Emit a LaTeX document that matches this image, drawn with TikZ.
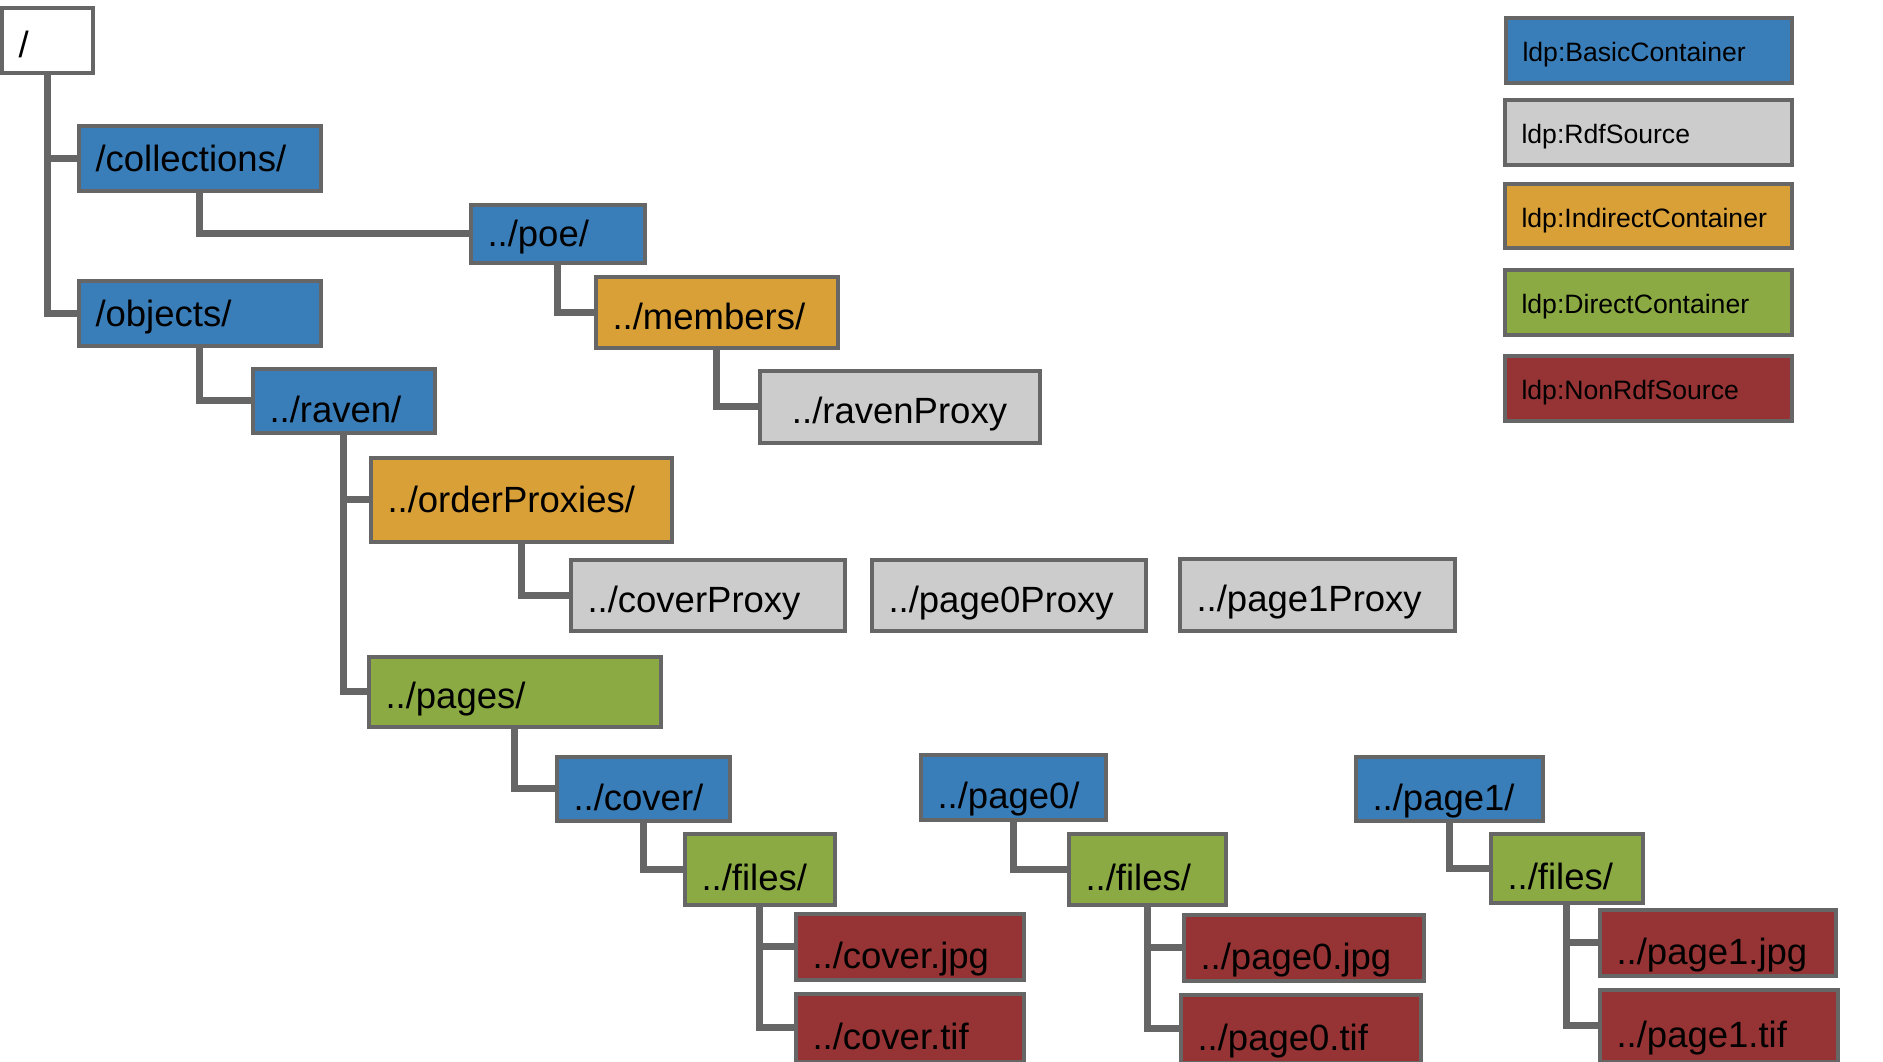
\documentclass[tikz,border=0pt]{standalone}
\usepackage{fontspec}
\setmainfont{Liberation Sans}
\usetikzlibrary{backgrounds}
\definecolor{linegray}{HTML}{666666}
\definecolor{basicblue}{HTML}{3A7EB9}
\definecolor{rdfgray}{HTML}{CCCCCC}
\definecolor{indorange}{HTML}{D9A038}
\definecolor{dirgreen}{HTML}{8BAA43}
\definecolor{nonrdfred}{HTML}{963334}
\tikzset{
  % box size given in pixels: outer width, outer height
  boxsize/.code 2 args={%
    \pgfmathsetlengthmacro\boxw{(#1-4)*0.5pt}%
    \pgfmathsetlengthmacro\boxtw{(#1-4)*0.5pt-17pt}%
    \pgfmathsetlengthmacro\boxh{(#2-4)*0.5pt}%
    \edef\boxopts{\noexpand\tikzset{minimum width=\boxw,text width=\boxtw,minimum height=\boxh}}\boxopts},
  res/.style={draw=linegray, line width=2pt, anchor=north west,
    inner xsep=8.5pt, inner ysep=0pt, align=left,
    font=\fontsize{18.25pt}{20pt}\selectfont, text height=17pt, text depth=0pt},
  lowtext/.style={text height=21.5pt},
  hightext/.style={text height=13pt},
  rootbox/.style={res, fill=white},
  bcbox/.style={res, fill=basicblue},
  rdfbox/.style={res, fill=rdfgray},
  icbox/.style={res, fill=indorange},
  dcbox/.style={res, fill=dirgreen},
  nrbox/.style={res, fill=nonrdfred, lowtext},
  keybox/.style={font=\fontsize{13.3pt}{15pt}\selectfont, text height=11.5pt},
  conn/.style={draw=linegray, line width=3.5pt},
}
\begin{document}
\begin{tikzpicture}[x=0.5pt,y=-0.5pt]
\useasboundingbox (0,0) rectangle (1883,1061);

\begin{scope}[shift={(-2.5,-2.5)}]
% tree
\node[rootbox, boxsize={95}{69}] (root) at (2,8) {/};
\node[bcbox, hightext, boxsize={246}{69}] (collections) at (79,126) {/collections/};
\node[bcbox, hightext, boxsize={178}{62}] (poe) at (471,205) {../poe/};
\node[icbox, boxsize={246}{75}] (members) at (596,277) {../members/};
\node[rdfbox, boxsize={284}{76}, align=center] (ravenproxy) at (760,371) {../ravenProxy};
\node[bcbox, hightext, boxsize={246}{69}] (objects) at (79,281) {/objects/};
\node[bcbox, lowtext, boxsize={186}{68}] (raven) at (253,369) {../raven/};
\node[icbox, hightext, boxsize={305}{88}] (orderproxies) at (371,458) {../orderProxies/};
\node[rdfbox, boxsize={278}{75}] (coverproxy) at (571,560) {../coverProxy};
\node[rdfbox, boxsize={278}{75}] (page0proxy) at (872,560) {../page0Proxy};
\node[rdfbox, boxsize={279}{76}] (page1proxy) at (1180,559) {../page1Proxy};
\node[dcbox, boxsize={296}{74}] (pages) at (369,657) {../pages/};

% cover, page0, page1
\node[bcbox, lowtext, boxsize={177}{68}] (cover) at (557,757) {../cover/};
\node[dcbox, lowtext, boxsize={154}{75}] (coverfiles) at (685,834) {../files/};
\node[nrbox, boxsize={232}{70}] (coverjpg) at (796,914) {../cover.jpg};
\node[nrbox, boxsize={232}{72}] (covertif) at (796,994) {../cover.tif};

\node[bcbox, lowtext, boxsize={189}{69}] (page0) at (921,755) {../page0/};
\node[dcbox, lowtext, boxsize={161}{75}] (page0files) at (1069,834) {../files/};
\node[nrbox, boxsize={244}{70}] (page0jpg) at (1184,915) {../page0.jpg};
\node[nrbox, boxsize={244}{72}] (page0tif) at (1181,995) {../page0.tif};

\node[bcbox, lowtext, boxsize={191}{68}] (page1) at (1356,757) {../page1/};
\node[dcbox, lowtext, boxsize={156}{73}] (page1files) at (1491,834) {../files/};
\node[nrbox, boxsize={240}{70}] (page1jpg) at (1600,910) {../page1.jpg};
\node[nrbox, boxsize={242}{76}] (page1tif) at (1600,990) {../page1.tif};

% legend
\node[bcbox, keybox, boxsize={290}{69}] (keybasic) at (1506,18) {ldp:BasicContainer};
\node[rdfbox, keybox, boxsize={291}{69}] (keyrdf) at (1505,100) {ldp:RdfSource};
\node[icbox, keybox, boxsize={291}{68}] (keyindirect) at (1505,184) {ldp:IndirectContainer};
\node[dcbox, keybox, boxsize={291}{69}] (keydirect) at (1505,270) {ldp:DirectContainer};
\node[nrbox, keybox, boxsize={291}{69}] (keynonrdf) at (1505,356) {ldp:NonRdfSource};

\begin{scope}[on background layer]
\draw[conn] (root.south) |- (collections.west);
\draw[conn] (root.south) |- (objects.west);
\draw[conn] (collections.south) |- (poe.west);
\draw[conn] (poe.south) |- (members.west);
\draw[conn] (members.south) |- (ravenproxy.west);
\draw[conn] (objects.south) |- (raven.west);
\draw[conn] (raven.south) |- (orderproxies.west);
\draw[conn] (raven.south) |- (pages.west);
\draw[conn] (orderproxies.south) |- (coverproxy.west);
\draw[conn] (pages.south) |- (cover.west);
\draw[conn] (cover.south) |- (coverfiles.west);
\draw[conn] (coverfiles.south) |- (coverjpg.west);
\draw[conn] (coverfiles.south) |- (covertif.west);
\draw[conn] (page0.south) |- (page0files.west);
\draw[conn] (page0files.south) |- (page0jpg.west);
\draw[conn] (page0files.south) |- (page0tif.west);
\draw[conn] (page1.south) |- (page1files.west);
\draw[conn] (page1files.south) |- (page1jpg.west);
\draw[conn] (page1files.south) |- (page1tif.west);
\end{scope}
\end{scope}
\end{tikzpicture}
\end{document}
